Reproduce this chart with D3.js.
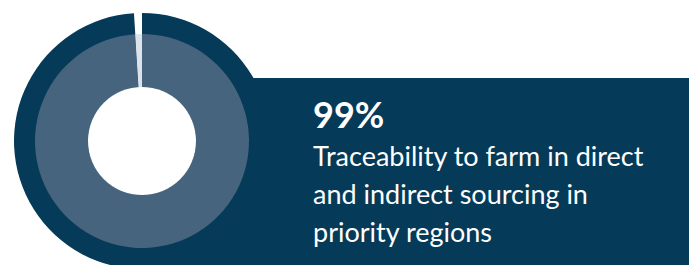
<!DOCTYPE html>
<html>
<head>
<meta charset="utf-8">
<script src="https://cdn.jsdelivr.net/npm/d3@7"></script>
<style>
  body { margin: 0; background: #fff; }
  svg { display: block; }
</style>
</head>
<body>
<script>
// values
const shares = [99, 1];            // traced, not traced (%)
const headline = "99%";
const lines = ["Traceability to farm in direct", "and indirect sourcing in", "priority regions"];

const svgWidth = 689, svgHeight = 265;
const navy = "#053a58", slate = "#46647d", pale = "#dde3ea";

const svg = d3.select("body").append("svg")
  .attr("width", svgWidth)
  .attr("height", svgHeight);

// banner behind the circle
svg.append("rect")
  .attr("x", 142).attr("y", 78)
  .attr("width", svgWidth - 142).attr("height", svgHeight - 78)
  .attr("fill", navy);

const g = svg.append("g").attr("transform", "translate(142,141)");

const pie = d3.pie().sort(null).value(d => d);
const arcs = pie(shares);

// outer dark ring, only behind the traced share
const outer = d3.arc().innerRadius(0).outerRadius(128);
g.append("path")
  .attr("d", outer(arcs[0]))
  .attr("fill", navy);

// donut
const donut = d3.arc().innerRadius(54).outerRadius(107);
g.selectAll("path.slice")
  .data(arcs)
  .enter()
  .append("path")
    .attr("class", "slice")
    .attr("d", donut)
    .attr("fill", (d, i) => i === 0 ? slate : pale);

// hole
g.append("circle").attr("r", 54).attr("fill", "#fff");

// text
svg.append("text")
  .attr("x", 313).attr("y", 128)
  .attr("fill", "#fff")
  .style("font-family", "Lato")
  .style("font-weight", 700)
  .style("font-size", "36px")
  .text(headline);

svg.append("g").selectAll("text")
  .data(lines)
  .enter()
  .append("text")
    .attr("x", 313)
    .attr("y", (d, i) => 166 + i * 38)
    .attr("fill", "#fff")
    .style("font-family", "Lato")
    .style("font-size", "27px")
    .text(d => d);
</script>
</body>
</html>
